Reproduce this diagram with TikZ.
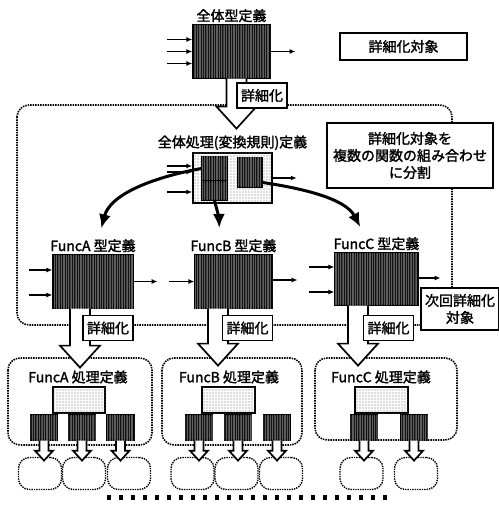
\documentclass[tikz,border=0pt]{standalone}
\usepackage{fontspec}
\setmainfont{Noto Sans CJK JP}[FakeBold=1.8]
\usetikzlibrary{positioning,arrows.meta,patterns.meta}
\definecolor{ink}{HTML}{141414}
\definecolor{stripe}{HTML}{5E5E5E}
\definecolor{dotc}{HTML}{6E6E6E}
\newcommand\hollow[4]{\draw[hol] ([xshift=#4]#1.south) ++(-#3,0) -- ++(0,{#2-2.2*#3}) -- ++(-#3,0)
  -- ++({2*#3},{2.2*#3}) -- ++({2*#3},{-2.2*#3}) -- ++(-#3,0) -- ++(0,{-(#2-2.2*#3)});}

\begin{document}
\begin{tikzpicture}[x=1pt,y=-1pt,font=\fontsize{14}{17}\selectfont,node distance=0pt,
  dk/.style={draw,line width=1.2pt,fill=ink,inner sep=0,postaction={pattern={Lines[angle=90,distance=1.7pt,line width=.3pt]},pattern color=stripe}},
  dt/.style={draw,line width=1.3pt,fill=white,inner sep=0,postaction={pattern={Dots[distance=3pt,radius=.55pt]},pattern color=dotc}},
  tt/.style={inner sep=2pt},
  tag/.style={draw,line width=1.5pt,fill=white,inner sep=4pt,minimum height=25},
  rg/.style={line width=1.6pt,dash pattern=on 1.5pt off 1pt,rounded corners=12pt},
  blob/.style={draw,line width=1.4pt,dash pattern=on 1.4pt off 1pt,rounded corners=11pt,minimum width=43,minimum height=32},
  ar/.style={-{Latex[length=6pt,width=5pt]},line width=1.3pt},
  big/.style={-{Latex[length=14pt,width=12pt]},line width=3pt,shorten >=9pt},
  hol/.style={line width=1.7pt,fill=white,line join=miter}]
  \useasboundingbox (0,0) rectangle (498,510);
  \draw[rg] (17,105) rectangle (452,325);
  \draw[rg] (8,358) rectangle (152,445);
  \draw[rg] (162,358) rectangle (302,445);
  \draw[rg] (315,358) rectangle (457,440);

  \node[dk,minimum width=77,minimum height=53] (top) at (231.5,51.5) {};
  \node[tt,above=of top] (topt) {全体型定義};
  \foreach \d in {-12,0,12} \draw[ar] (top.west) ++(-25,\d) -- ++(25,0);
  \draw[ar] (top.east) -- ++(25,0);
  \node[tag,line width=2pt,minimum width=127,minimum height=27] (goal) at (403.5,46.5) {詳細化対象};

  \node[dt,line width=1.5pt,minimum width=79,minimum height=50] (pr) at (232.5,178) {};
  \node[tt,above=of pr] (prt) {全体処理(変換規則)定義};
  \node[dk,minimum width=25,minimum height=23] (p1) at (214.5,168.5) {};
  \node[dk,minimum width=25,minimum height=18] (p2) at (214.5,191) {};
  \node[dk,minimum width=24,minimum height=29] (p3) at (250,172.5) {};
  \foreach \d in {-12,-6,14} \draw[ar] (pr.west) ++(-25,\d) -- ++(25,0);
  \draw[ar] (pr.east) -- ++(24,0);
  \node[tag,line width=2pt,minimum width=166,minimum height=65,align=center] (split) at (410,155.5)
    {詳細化対象を\\複数の関数の組み合わせ\\に分割};

  \node[dk,minimum width=80,minimum height=53] (fa) at (93,281.5) {};
  \node[dk,minimum width=77,minimum height=53] (fb) at (233.5,281.5) {};
  \node[dk,minimum width=83,minimum height=52] (fc) at (376.5,279) {};
  \node[tt,above=of fa] (fat) {FuncA 型定義};
  \node[tt,above=of fb] (fbt) {FuncB 型定義};
  \node[tt,above=of fc] (fct) {FuncC 型定義};
  \foreach \d in {-11.5,13.5} \draw[ar] (fa.west) ++(-23,\d) -- ++(23,0);
  \draw[ar] (fa.east) -- ++(24,0);
  \draw[ar] (fb.west) ++(-25,0) -- ++(25,0);
  \draw[ar] (fb.east) ++(0,-1.5) -- ++(25,0);
  \foreach \d in {-12,13} \draw[ar] (fc.west) ++(-25,\d) -- ++(25,0);
  \draw[ar] (fc.east) ++(0,-1) -- ++(22,0);

  \draw[big] (p1.west) .. controls (150,178) and (110,195) .. ([xshift=6]fat.north);
  \draw[big] (p2.south) .. controls (217,210) and (219,218) .. ([xshift=-14]fbt.north);
  \draw[big] ([yshift=-10]p3.east) .. controls (300,188) and (345,198) .. ([xshift=-12]fct.north);

  \node[tag,minimum width=74,minimum height=42,align=center] (next) at (460,309) {次回詳細化\\対象};

  \node[tt] (pat) at (78,377) {FuncA 処理定義};
  \node[tt] (pbt) at (229,377) {FuncB 処理定義};
  \node[tt] (pct) at (381,377) {FuncC 処理定義};
  \node[dt,minimum width=52,minimum height=26] (la) at (79,400) {};
  \node[dt,minimum width=53,minimum height=26] (lb) at (228.5,400) {};
  \node[dt,minimum width=53,minimum height=26] (lc) at (381.5,400) {};
  \foreach \n/\x in {a1/40,a2/84,a3/129,b1/192.5,b2/236.5,b3/281,c1/361.5,c2/416}
    \node[blob] (o\n) at (\x,473.5) {};
  \foreach \n/\x in {a1/44,a2/82,a3/120.5,b1/199,b2/238,b3/277,c1/364,c2/414}{
    \node[dk,minimum width=27,minimum height=25] (\n) at (\x,427.5) {};
    \hollow{\n}{20}{4.5}{0}}

  \hollow{top}{50}{10}{5}
  \hollow{fa}{59}{10}{-13}
  \hollow{fb}{57}{10}{-15.5}
  \hollow{fc}{60}{10}{-18.5}
  \node[tag] (d0) at (262,95.5) {詳細化};
  \node[tag] (d1) at (108,328) {詳細化};
  \node[tag] (d2) at (247.5,328) {詳細化};
  \node[tag] (d3) at (388.5,328) {詳細化};

  \foreach \i in {0,...,23} \fill (107+12*\i,494.5) rectangle ++(3.5,5.5);
\end{tikzpicture}
\end{document}
